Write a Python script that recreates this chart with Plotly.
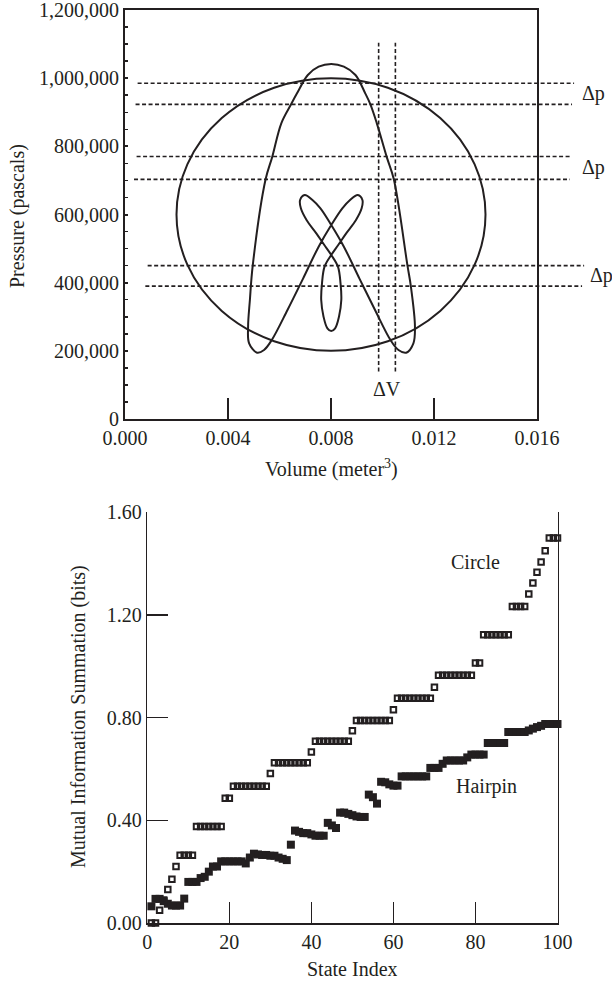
import plotly.graph_objects as go

# ---------------- Top chart: pressure-volume loops ----------------
vol_range = [0.0, 0.016]
pres_range = [0, 1200000]
vol_ticks = [0.000, 0.004, 0.008, 0.012, 0.016]
pres_ticks = [0, 200000, 400000, 600000, 800000, 1000000, 1200000]

# "Circle" loop (read: centre and radii)
circle_center_v = 0.008
circle_center_p = 600000
circle_radius_v = 0.006
circle_radius_p = 400000

# "Hairpin" loop, points (closed)
hairpin_v = [
    0.01044, 0.01097, 0.01110, 0.01126, 0.01120, 0.01092, 0.01062, 0.01031,
    0.00971, 0.00910, 0.00850, 0.00801, 0.00759, 0.00728, 0.00698, 0.00680,
    0.00683, 0.00705, 0.00743, 0.00774, 0.00801, 0.00827, 0.00837, 0.00840,
    0.00831, 0.00816, 0.00801, 0.00786, 0.00771, 0.00762, 0.00765, 0.00775,
    0.00801, 0.00828, 0.00859, 0.00897, 0.00919, 0.00922, 0.00904, 0.00874,
    0.00844, 0.00801, 0.00752, 0.00692, 0.00631, 0.00570, 0.00540, 0.00513,
    0.00482, 0.00478, 0.00485, 0.00496, 0.00546, 0.00572, 0.00607, 0.00645,
    0.00668, 0.00710, 0.00752, 0.00801, 0.00850, 0.00895, 0.00933, 0.00953,
    0.00978, 0.01016, 0.01044,
]
hairpin_p = [
    703200, 449900, 390200, 270900, 222000, 194600, 202500, 231800,
    319800, 412700, 505600, 569200, 618100, 642500, 657200, 642500,
    618100, 583900, 544700, 510500, 481200, 447000, 398100, 349200,
    300300, 266000, 258200, 266000, 300300, 349200, 398100, 447000,
    481200, 510500, 544700, 583900, 618100, 642500, 657200, 642500,
    618100, 569200, 505600, 412700, 319800, 231800, 202500, 194600,
    222000, 270900, 349200, 449900, 703200, 769700, 867500, 923200,
    955500, 1009300, 1033700, 1041600, 1033700, 1009300, 955500, 923200,
    867500, 769700, 703200,
]

# Δp pressure bands (dashed) and ΔV volume band (dashed)
dp_levels = [985000, 923000, 770000, 703000, 450000, 390000]
dp_v_start = [0.00049, 0.00041, 0.00045, 0.00035, 0.00088, 0.00079]
dp_v_end = [0.01744, 0.01736, 0.01736, 0.01728, 0.01783, 0.01775]
dp_label_v = [0.01818, 0.01818, 0.01850]
dv_levels = [0.00985, 0.01050]
dv_p_start = 139000
dv_p_end = 1104000
dv_label_p = 88000

# ---------------- Bottom chart: mutual information ----------------
state_index = list(range(1, 101))
circle_mi = [
    0.00, 0.00, 0.05, 0.09, 0.13, 0.17, 0.22, 0.264, 0.264, 0.264,
    0.264, 0.376, 0.376, 0.376, 0.376, 0.376, 0.376, 0.376, 0.486, 0.486,
    0.533, 0.533, 0.533, 0.533, 0.533, 0.533, 0.533, 0.533, 0.533, 0.582,
    0.624, 0.624, 0.624, 0.624, 0.624, 0.624, 0.624, 0.624, 0.624, 0.666,
    0.708, 0.708, 0.708, 0.708, 0.708, 0.708, 0.708, 0.708, 0.708, 0.749,
    0.789, 0.789, 0.789, 0.789, 0.789, 0.789, 0.789, 0.789, 0.789, 0.831,
    0.875, 0.875, 0.875, 0.875, 0.875, 0.875, 0.875, 0.875, 0.875, 0.918,
    0.965, 0.965, 0.965, 0.965, 0.965, 0.965, 0.965, 0.965, 0.965, 1.013,
    1.013, 1.123, 1.123, 1.123, 1.123, 1.123, 1.123, 1.123, 1.233, 1.233,
    1.233, 1.233, 1.281, 1.324, 1.366, 1.406, 1.450, 1.500, 1.500, 1.500,
]
hairpin_mi = [
    0.065, 0.094, 0.094, 0.085, 0.075, 0.068, 0.068, 0.068, 0.095, 0.160,
    0.160, 0.160, 0.175, 0.180, 0.200, 0.220, 0.220, 0.240, 0.240, 0.240,
    0.240, 0.240, 0.240, 0.232, 0.255, 0.270, 0.267, 0.265, 0.265, 0.262,
    0.262, 0.255, 0.250, 0.245, 0.305, 0.360, 0.355, 0.350, 0.350, 0.345,
    0.340, 0.340, 0.340, 0.390, 0.380, 0.370, 0.430, 0.430, 0.425, 0.420,
    0.415, 0.413, 0.413, 0.500, 0.490, 0.465, 0.550, 0.548, 0.540, 0.535,
    0.535, 0.571, 0.571, 0.571, 0.571, 0.571, 0.571, 0.571, 0.604, 0.604,
    0.604, 0.620, 0.633, 0.633, 0.633, 0.633, 0.633, 0.645, 0.656, 0.656,
    0.656, 0.656, 0.701, 0.701, 0.701, 0.701, 0.701, 0.744, 0.744, 0.744,
    0.744, 0.744, 0.750, 0.757, 0.763, 0.768, 0.775, 0.775, 0.775, 0.775,
]
state_range = [0, 100]
mi_range = [0, 1.6]
mi_ticks = [0.0, 0.4, 0.8, 1.2, 1.6]
state_ticks = [0, 20, 40, 60, 80, 100]

# ---------------- Styling ----------------
INK = "#231f20"
FONT = "Liberation Serif"
FS = 20
W, H = 612, 983


def px_x(p):
    return p / W


def px_y(p):
    return 1 - p / H


top_x_dom = [px_x(125), px_x(537)]
top_y_dom = [px_y(419), px_y(10)]
bot_x_dom = [px_x(147.3), px_x(557.5)]
bot_y_dom = [px_y(923), px_y(512.2)]

fig = go.Figure()

fig.add_trace(go.Scatter(
    x=hairpin_v, y=hairpin_p, mode="lines",
    line=dict(color=INK, width=2, shape="spline", smoothing=1.0),
    xaxis="x", yaxis="y", hoverinfo="skip", showlegend=False,
))

fig.add_trace(go.Scatter(
    x=state_index, y=hairpin_mi, mode="markers",
    marker=dict(symbol="square", size=8, color=INK, line=dict(width=0)),
    xaxis="x2", yaxis="y2", showlegend=False, cliponaxis=False,
))
fig.add_trace(go.Scatter(
    x=state_index, y=circle_mi, mode="markers",
    marker=dict(symbol="square-open", size=5.5, color=INK, line=dict(width=2, color=INK)),
    xaxis="x2", yaxis="y2", showlegend=False, cliponaxis=False,
))

shapes = []
shapes.append(dict(
    type="circle", xref="x", yref="y",
    x0=circle_center_v - circle_radius_v, x1=circle_center_v + circle_radius_v,
    y0=circle_center_p - circle_radius_p, y1=circle_center_p + circle_radius_p,
    line=dict(color=INK, width=2),
))
span = vol_range[1] - vol_range[0]


def vol_to_paper(v):
    frac = (v - vol_range[0]) / span
    return top_x_dom[0] + frac * (top_x_dom[1] - top_x_dom[0])


for lvl, v0, v1 in zip(dp_levels, dp_v_start, dp_v_end):
    shapes.append(dict(
        type="line", xref="paper", yref="y",
        x0=vol_to_paper(v0), x1=vol_to_paper(v1),
        y0=lvl, y1=lvl,
        line=dict(color=INK, width=1.6, dash="4px,2.5px"),
    ))
for v in dv_levels:
    shapes.append(dict(
        type="line", xref="x", yref="y",
        x0=v, x1=v, y0=dv_p_start, y1=dv_p_end,
        line=dict(color=INK, width=1.6, dash="4px,2.5px"),
    ))

tfont = dict(family=FONT, size=FS, color=INK)
annotations = []


def note(**kw):
    d = dict(showarrow=False, font=tfont, xanchor="center", yanchor="middle")
    d.update(kw)
    annotations.append(d)


for k, xv in enumerate(dp_label_v):
    mid = (dp_levels[2 * k] + dp_levels[2 * k + 1]) / 2
    note(x=vol_to_paper(xv), y=mid, xref="paper", yref="y", text="Δp")
note(x=sum(dv_levels) / 2, y=dv_label_p, xref="x", yref="y", text="ΔV")
note(x=80.1, y=1.405, xref="x2", yref="y2", text="Circle")
note(x=82.6, y=0.530, xref="x2", yref="y2", text="Hairpin")
# axis titles
note(x=px_x(18), y=px_y(216), xref="paper", yref="paper",
     text="Pressure (pascals)", textangle=-90)
note(x=px_x(331), y=px_y(468), xref="paper", yref="paper",
     text="Volume (meter<sup>3</sup>)")
note(x=px_x(78), y=px_y(717), xref="paper", yref="paper",
     text="Mutual Information Summation (bits)", textangle=-90)
note(x=px_x(352), y=px_y(969), xref="paper", yref="paper", text="State Index",
     height=22, borderpad=0)

axis_common = dict(showgrid=False, zeroline=False, showline=True, linecolor=INK,
                   tickcolor=INK, tickfont=tfont, ticks="inside",
                   ticklabeloverflow="allow", fixedrange=True)

fig.update_layout(
    width=W, height=H,
    margin=dict(l=0, r=0, t=0, b=0, pad=0, autoexpand=False),
    paper_bgcolor="white", plot_bgcolor="white",
    font=tfont, hovermode=False, dragmode=False,
    shapes=shapes, annotations=annotations,
    xaxis=dict(axis_common, domain=top_x_dom, range=vol_range,
               tickvals=vol_ticks, ticktext=[f"{v:.3f}" for v in vol_ticks],
               ticklen=21, tickwidth=2, linewidth=2, mirror=True, anchor="y"),
    yaxis=dict(axis_common, domain=top_y_dom, range=pres_range,
               tickvals=pres_ticks, tickformat=",d", ticklen=3, tickwidth=2,
               linewidth=2, mirror=True, anchor="x",
               minor=dict(ticks="inside", dtick=50000, ticklen=3, tickwidth=1.5,
                          tickcolor=INK)),
    xaxis2=dict(axis_common, domain=bot_x_dom, range=state_range,
                tickvals=state_ticks, ticklen=21, tickwidth=1.5, linewidth=1.5,
                anchor="y2"),
    yaxis2=dict(axis_common, domain=bot_y_dom, range=mi_range,
                tickvals=mi_ticks, tickformat=".2f", ticklen=21, tickwidth=1.5,
                linewidth=1.5, mirror=True, anchor="x2"),
)

fig.write_html(
    "out.html",
    config={"displayModeBar": False, "staticPlot": True},
    post_script="document.body.style.margin='0';document.body.style.padding='0';"
                "document.body.style.overflow='hidden';",
)
